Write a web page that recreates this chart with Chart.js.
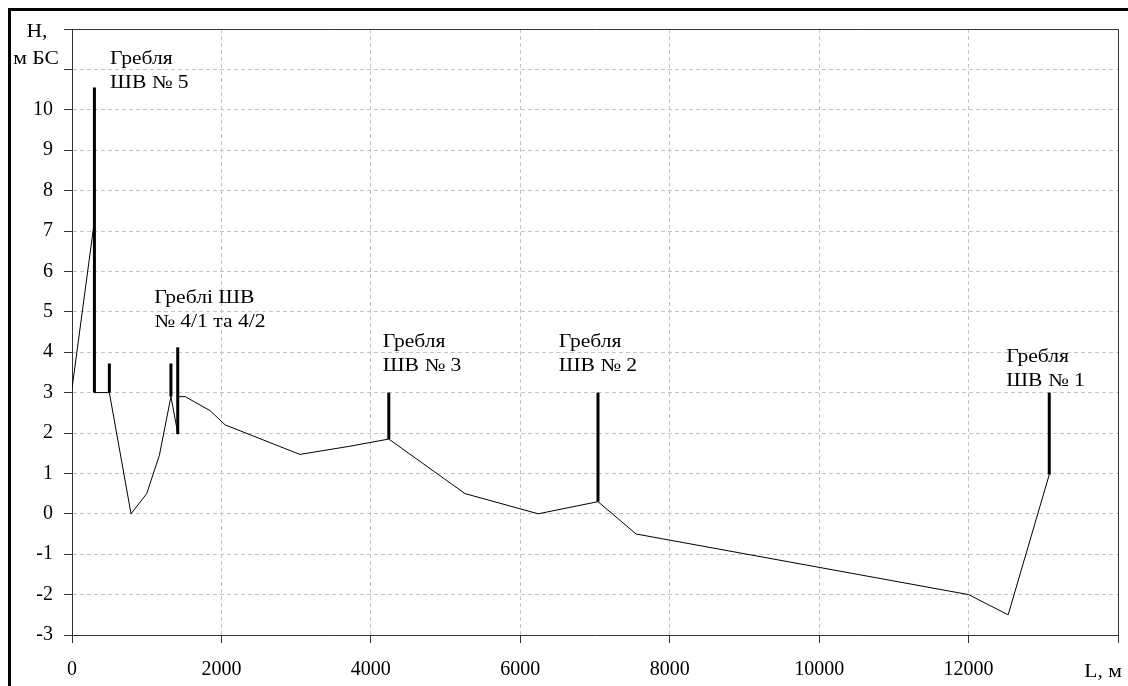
<!DOCTYPE html>
<html>
<head>
<meta charset="utf-8">
<script src="https://cdn.jsdelivr.net/npm/chart.js@4.4.0/dist/chart.umd.min.js"></script>
<style>
  body { margin: 0; background: #fff; overflow: hidden; }
  #wrap { position: relative; width: 1128px; height: 686px; }
  #frame { position: absolute; left: 8px; top: 8px; width: 1300px; height: 900px;
           border-top: 3px solid #000; border-left: 3px solid #000; pointer-events: none; }
</style>
</head>
<body>
<div id="wrap">
  <canvas id="myChart" width="1128" height="686"></canvas>
  <div id="frame"></div>
</div>
<script>
// river bed profile: L (m) and H (m BS)
const profileL = [0, 300, 300, 500, 790, 1000, 1170, 1324, 1415, 1425, 1515, 1850, 2050, 3050, 3710, 4240, 5260, 6240, 7040, 7550, 12000, 12530, 13080];
const profileH = [3.1, 7.25, 3.0, 3.0, 0, 0.5, 1.45, 2.9, 2.0, 2.9, 2.9, 2.55, 2.2, 1.47, 1.67, 1.85, 0.5, 0.0, 0.3, -0.5, -2.0, -2.5, 0.97];

// dams, drawn as thick vertical bars
const damL = [300, 500, 1324, 1415, 4240, 7040, 13080];
const damBottom = [3.0, 3.0, 2.9, 1.97, 1.85, 0.3, 0.97];
const damTop = [10.55, 3.72, 3.72, 4.12, 3.0, 3.0, 3.0];

// captions for the dams
const noteText = [["Гребля", "ШВ № 5"], ["Греблі ШВ", "№ 4/1 та 4/2"], ["Гребля", "ШВ № 3"], ["Гребля", "ШВ № 2"], ["Гребля", "ШВ № 1"]];
const noteL = [510, 1100, 4160, 6515, 12505];
const noteH = [11.25, 5.33, 4.24, 4.24, 3.87];

// axes
const xMin = 0, xMax = 14000, xStep = 2000;
const yMin = -3, yMax = 12, yStep = 1;
const yLastLabel = 10;

const fontFamily = "'Liberation Serif', 'Times New Roman', serif";
const axisColor = '#333';
const gridColor = '#c4c4c4';
const stretch = 1.2; // the original lettering is a bit wide

let datasets = [{
  data: profileL.map((l, i) => ({ x: l, y: profileH[i] })),
  borderColor: '#000',
  borderWidth: 1,
  pointRadius: 0,
  tension: 0
}];

damL.forEach((l, i) => {
  datasets.push({
    data: [{ x: l, y: damBottom[i] }, { x: l, y: damTop[i] }],
    borderColor: '#000',
    borderWidth: 3,
    borderCapStyle: 'butt',
    pointRadius: 0
  });
});

function wideText(ctx, text, x, y, align) {
  ctx.save();
  ctx.translate(x, y);
  ctx.scale(stretch, 1);
  ctx.textAlign = align;
  ctx.fillText(text, 0, 0);
  ctx.restore();
}

// frame, captions and axis titles
const extras = {
  id: 'extras',
  afterDraw(chart) {
    const ctx = chart.ctx;
    const a = chart.chartArea;
    const xs = chart.scales.x, ys = chart.scales.y;
    ctx.save();
    ctx.strokeStyle = axisColor;
    ctx.lineWidth = 1;
    ctx.beginPath();
    ctx.moveTo(a.left, a.top + 0.5);
    ctx.lineTo(a.right + 0.5, a.top + 0.5);
    ctx.lineTo(a.right + 0.5, a.bottom);
    ctx.stroke();

    ctx.fillStyle = '#000';
    ctx.font = '18px ' + fontFamily;
    ctx.textBaseline = 'middle';
    noteText.forEach((lines, i) => {
      const px = xs.getPixelForValue(noteL[i]);
      const py = ys.getPixelForValue(noteH[i]);
      lines.forEach((t, j) => wideText(ctx, t, px, py + j * 24, 'left'));
    });

    // axis titles
    wideText(ctx, 'Н,', 37, ys.getPixelForValue(yMax) + 3, 'center');
    wideText(ctx, 'м БС', 36, ys.getPixelForValue(yMax) + 30, 'center');
    wideText(ctx, 'L, м', a.right + 4, xs.bottom - 14, 'right');
    ctx.restore();
  }
};

const ctx = document.getElementById('myChart').getContext('2d');
const myChart = new Chart(ctx, {
  type: 'line',
  data: { datasets: datasets },
  options: {
    responsive: false,
    animation: false,
    devicePixelRatio: 1,
    layout: { padding: { left: 0, top: 29, right: 10, bottom: 0 } },
    plugins: { legend: { display: false }, tooltip: { enabled: false } },
    scales: {
      x: {
        type: 'linear',
        min: xMin, max: xMax,
        afterFit: (s) => { s.height = 51; s.paddingLeft = 0; s.paddingRight = 0; },
        ticks: {
          stepSize: xStep,
          color: '#000',
          padding: 15,
          maxRotation: 0,
          font: { family: fontFamily, size: 20 },
          callback: (v) => v === xMax ? '' : v
        },
        grid: { color: gridColor, tickColor: axisColor, tickLength: 8 },
        border: { color: axisColor, width: 1, dash: [4, 3] }
      },
      y: {
        min: yMin, max: yMax,
        afterFit: (s) => { s.width = 72; },
        ticks: {
          stepSize: yStep,
          color: '#000',
          padding: 11,
          font: { family: fontFamily, size: 20 },
          callback: (v) => v > yLastLabel ? '' : v
        },
        grid: { color: gridColor, tickColor: axisColor, tickLength: 8 },
        border: { color: axisColor, width: 1, dash: [4, 3] }
      }
    }
  },
  plugins: [extras]
});
</script>
</body>
</html>
